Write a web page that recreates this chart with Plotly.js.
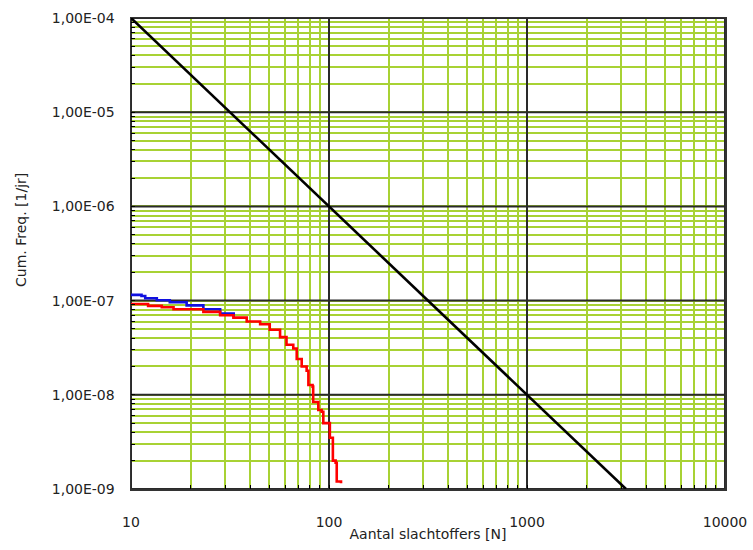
<!DOCTYPE html>
<html>
<head>
<meta charset="utf-8">
<script src="https://cdn.plot.ly/plotly-3.0.1.min.js"></script>
<style>html,body{margin:0;padding:0;background:#fff;}#chart{width:753px;height:550px;}</style>
</head>
<body>
<div id="chart"></div>
<script>
// Norm line (orientatiewaarde)
const normN = [10, 100, 1000, 3162];
const normF = [1e-4, 1e-6, 1e-8, 1e-9];

// Blue FN curve
const blueN = [10, 11.3, 11.8, 13.5, 15.7, 19.1, 23.2, 28.2, 33];
const blueF = [1.15e-7, 1.12e-7, 1.06e-7, 1.01e-7, 9.6e-8, 8.9e-8, 8.1e-8, 7.3e-8, 6.6e-8];

// Red FN curve
const redN = [10, 12.2, 14.3, 16.4, 23.2, 28.2, 32.9, 38.4, 44.9, 50.2, 56.6, 61, 66, 68.7, 72.8, 77.1, 78.7, 82.6, 83.2, 88.3, 91.8, 93.6, 99, 101, 104.6, 108, 109.4, 115];
const redF = [9.2e-8, 8.8e-8, 8.5e-8, 8.1e-8, 7.6e-8, 7.0e-8, 6.6e-8, 6.0e-8, 5.6e-8, 4.9e-8, 4.1e-8, 3.4e-8, 3.1e-8, 2.4e-8, 2.0e-8, 1.8e-8, 1.27e-8, 1.22e-8, 8.4e-9, 6.9e-9, 6.6e-9, 5.0e-9, 5.0e-9, 3.5e-9, 2.0e-9, 1.9e-9, 1.2e-9, 1.15e-9];

const xTickVals = [10, 100, 1000, 10000];
const xTickText = ['10', '100', '1000', '10000'];
const yTickVals = [1e-4, 1e-5, 1e-6, 1e-7, 1e-8, 1e-9];
const yTickText = ['1,00E-04', '1,00E-05', '1,00E-06', '1,00E-07', '1,00E-08', '1,00E-09'];

// all grid positions (1..9 per decade), labelled only at decades
function gridTicks(decades, labels) {
  const hi = Math.max(...decades);
  const vals = [], text = [];
  decades.slice().sort((a, b) => a - b).forEach(d => {
    for (let k = 1; k <= 9; k++) {
      const v = Number((k * d).toPrecision(3));
      if (v > hi * 1.0001) break;
      vals.push(v);
      text.push(k === 1 ? labels[decades.indexOf(d)] : '');
    }
  });
  return {vals, text};
}
const gx = gridTicks(xTickVals, xTickText);
const gy = gridTicks(yTickVals, yTickText);

// decade (major) grid lines in black, drawn as line traces beneath the data
const xMin = Math.min(...xTickVals), xMax = Math.max(...xTickVals);
const yMin = Math.min(...yTickVals), yMax = Math.max(...yTickVals);
const vgX = [], vgY = [], hgX = [], hgY = [];
xTickVals.forEach(v => { vgX.push(v, v, null); vgY.push(yMin, yMax, null); });
yTickVals.forEach(v => { hgX.push(xMin, xMax, null); hgY.push(v, v, null); });

const green = '#a8d234';
const dark = '#2a2a2a';
const traces = [
  {x: vgX, y: vgY, mode: 'lines', line: {color: dark, width: 2}, hoverinfo: 'skip', showlegend: false},
  {x: hgX, y: hgY, mode: 'lines', line: {color: dark, width: 2}, hoverinfo: 'skip', showlegend: false},
  {x: normN, y: normF, mode: 'lines', line: {color: '#000', width: 2.6}, showlegend: false},
  {x: blueN, y: blueF, mode: 'lines', line: {color: '#1010e0', width: 2.6, shape: 'hv'}, showlegend: false},
  {x: redN, y: redF, mode: 'lines', line: {color: '#ff0000', width: 2.6, shape: 'hv'}, showlegend: false}
];

const font = {family: 'DejaVu Sans, Verdana, sans-serif', size: 14, color: '#222'};
const layout = {
  width: 753, height: 550,
  margin: {l: 131, r: 28, t: 18, b: 61},
  paper_bgcolor: '#fff', plot_bgcolor: '#fff',
  font: font,
  xaxis: {
    type: 'log', range: [1, 4],
    tickmode: 'array', tickvals: gx.vals, ticktext: gx.text,
    ticks: 'inside', ticklen: 4, tickcolor: '#000', tickwidth: 1,
    ticklabelstandoff: 20,
    showgrid: true, gridcolor: green, gridwidth: 2,
    showline: true, linecolor: '#333', linewidth: 1.5, mirror: true,
    zeroline: false,
    title: {text: 'Aantal slachtoffers [N]', font: font, standoff: 0}
  },
  yaxis: {
    type: 'log', range: [-9, -4],
    tickmode: 'array', tickvals: gy.vals, ticktext: gy.text,
    ticks: 'inside', ticklen: 4, tickcolor: '#000', tickwidth: 1,
    ticklabelstandoff: 12,
    showgrid: true, gridcolor: green, gridwidth: 2,
    showline: true, linecolor: '#333', linewidth: 1.5, mirror: true,
    zeroline: false
  },
  annotations: [{
    text: 'Cum. Freq. [1/jr]', textangle: -90, showarrow: false,
    xref: 'paper', yref: 'paper', x: 0, y: 0.55, xanchor: 'center', yanchor: 'middle',
    xshift: -110, font: font
  }]
};

Plotly.newPlot('chart', traces, layout, {displayModeBar: false, staticPlot: true});
</script>
</body>
</html>
